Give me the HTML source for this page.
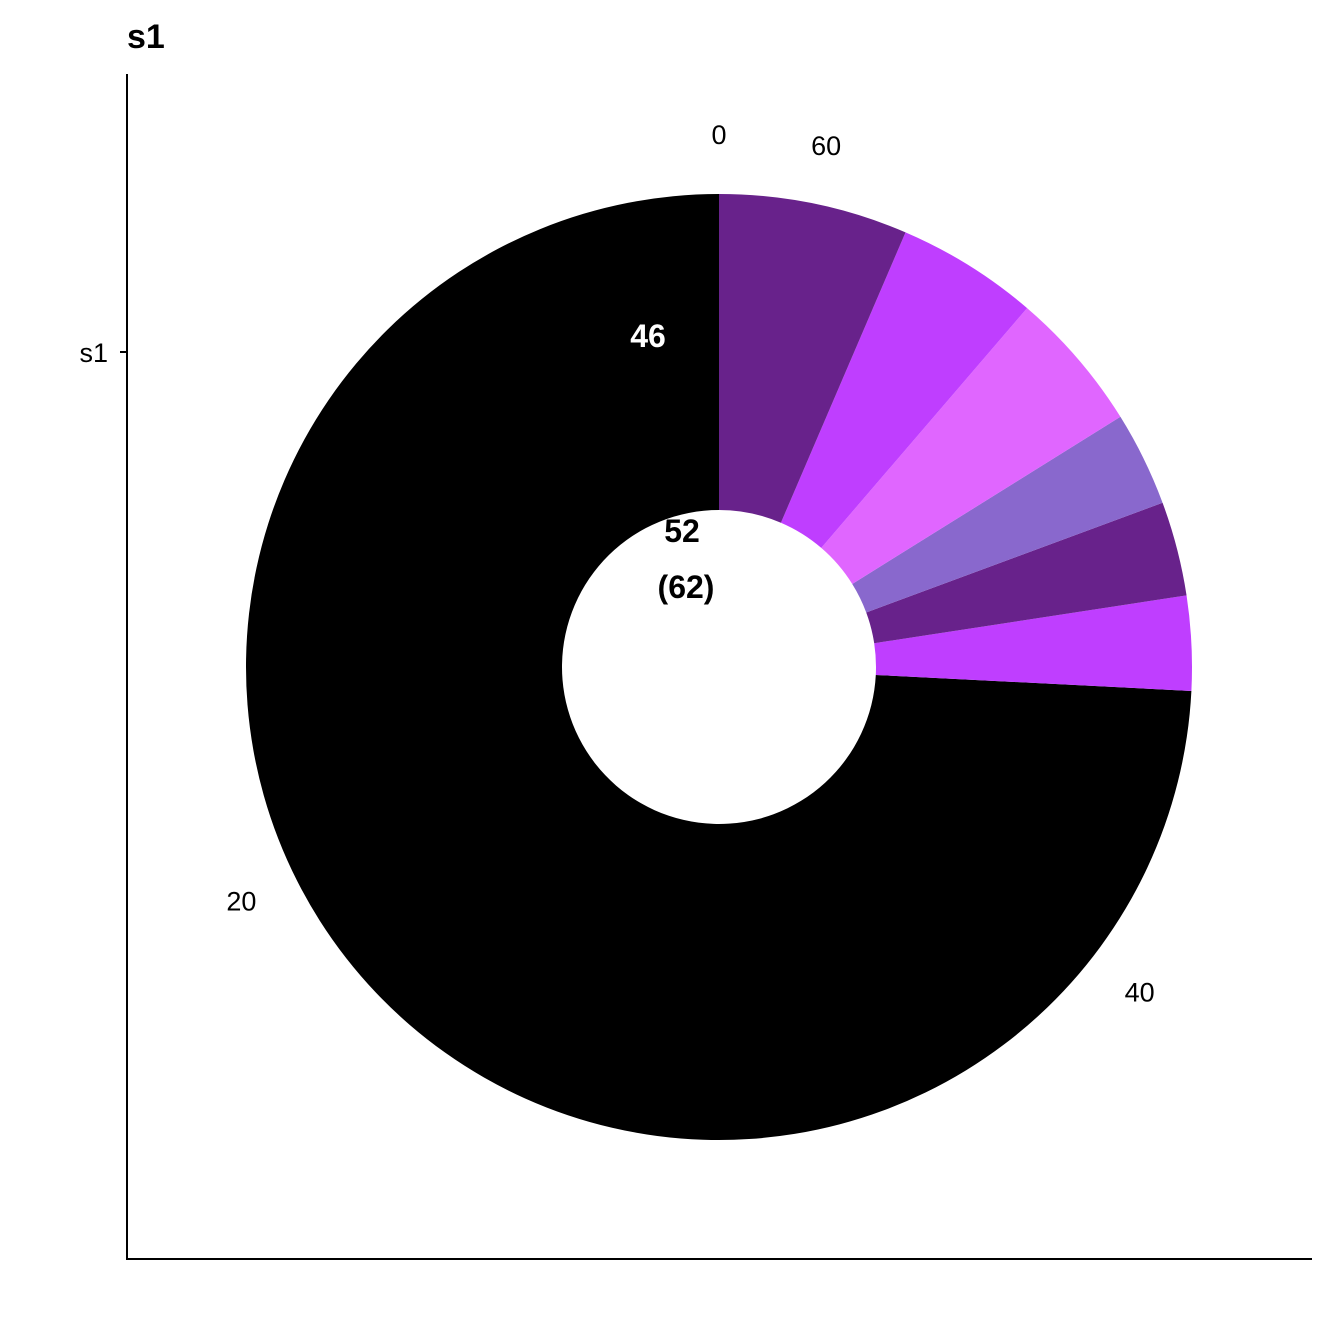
<!DOCTYPE html>
<html><head><meta charset="utf-8"><style>
html,body{margin:0;padding:0;background:#fff;}
svg{display:block;font-family:"Liberation Sans",Arial,sans-serif;}
</style></head>
<body>
<svg id="chart" width="1344" height="1344" viewBox="0 0 1344 1344">
<text x="127" y="48" font-size="34" font-weight="bold">s1</text>
<line x1="127" y1="74" x2="127" y2="1260" stroke="#000" stroke-width="2"/>
<line x1="126" y1="1259" x2="1312" y2="1259" stroke="#000" stroke-width="2"/>
<line x1="120" y1="352" x2="127" y2="352" stroke="#000" stroke-width="2"/>
<text x="108" y="362" font-size="27" text-anchor="end">s1</text>
<g id="slices"></g>
<g id="ticks"></g>
<text x="648" y="347" font-size="32" font-weight="bold" fill="#fff" text-anchor="middle">46</text>
<text x="682" y="542" font-size="32" font-weight="bold" fill="#000" stroke="#fff" stroke-width="1" paint-order="stroke" text-anchor="middle">52</text>
<text x="686" y="598" font-size="32" font-weight="bold" fill="#000" text-anchor="middle">(62)</text>
</svg>
<script>
const categories = ["a","b","c","d","e","f","g"];
const values = [46, 2, 2, 2, 3, 3, 4];
const colors = ["#000000","#BF3EFF","#68228B","#8968CD","#E066FF","#BF3EFF","#68228B"];
const tickValues = [0, 20, 40, 60];
const tickLabels = ["0","20","40","60"];

const cx = 719, cy = 667, rOut = 473, rIn = 157, rLab = 532;
const total = values.reduce((a,b)=>a+b,0);
function angle(v){ return -v / total * 2 * Math.PI; }
function pt(v, r){ const a = angle(v); return [cx + r*Math.sin(a), cy - r*Math.cos(a)]; }
const NS = "http://www.w3.org/2000/svg";
const g = document.getElementById("slices");
let cum = 0;
values.forEach((v,i)=>{
  const s = cum, e = cum + v; cum = e;
  const large = (v/total) > 0.5 ? 1 : 0;
  const p1 = pt(s,rOut), p2 = pt(e,rOut), p3 = pt(e,rIn), p4 = pt(s,rIn);
  const d = `M${p1[0]},${p1[1]} A${rOut},${rOut} 0 ${large} 0 ${p2[0]},${p2[1]} L${p3[0]},${p3[1]} A${rIn},${rIn} 0 ${large} 1 ${p4[0]},${p4[1]} Z`;
  const path = document.createElementNS(NS,"path");
  path.setAttribute("d", d);
  path.setAttribute("fill", colors[i]);
  
  
  g.appendChild(path);
});
const tg = document.getElementById("ticks");
tickValues.forEach((v,i)=>{
  const p = pt(v, rLab);
  const t = document.createElementNS(NS,"text");
  t.setAttribute("x", p[0]); t.setAttribute("y", p[1] + 9);
  t.setAttribute("font-size", "27");
  t.setAttribute("text-anchor", "middle");
  t.textContent = tickLabels[i];
  
  
  tg.appendChild(t);
});
</script>
</body></html>
